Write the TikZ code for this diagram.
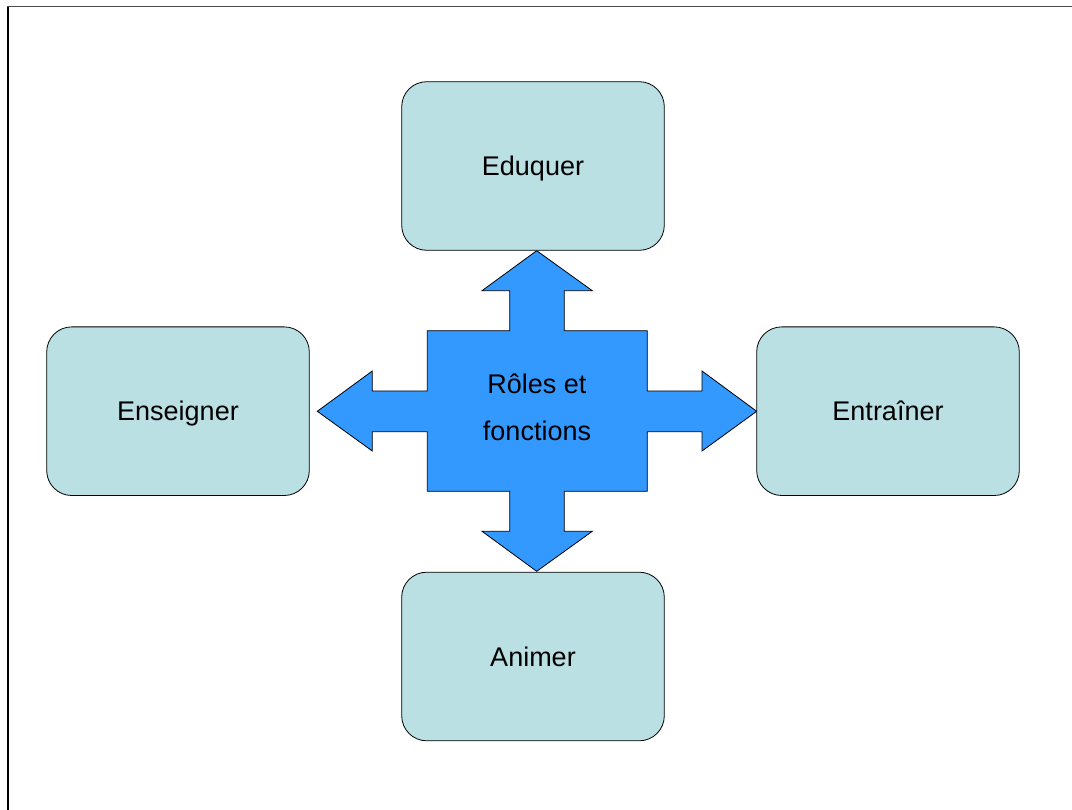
\documentclass[tikz,border=0pt]{standalone}
\usepackage{fontspec}
\setmainfont{Liberation Sans}
\definecolor{boxfill}{RGB}{186,224,228}
\definecolor{crossfill}{RGB}{51,153,255}
\begin{document}
\begin{tikzpicture}[x=1pt,y=-1pt,
  rolebox/.style={draw=black, line width=0.8pt, fill=boxfill, rounded corners=25pt,
    minimum width=262.6pt, minimum height=168.6pt, font=\fontsize{27}{32}\selectfont,
    text height=19.3pt, text depth=0pt},
  cross/.style={draw=black, line width=0.8pt, fill=crossfill, line join=miter}]
\useasboundingbox (0,0) rectangle (1072,810);
\draw[line width=1pt, draw=black!70] (7,7) -- (1072,7);
\draw[line width=2pt] (7.5,7) -- (7.5,810);
% central cross arrow
\draw[cross] (536.7,250.7) -- (592.3,290.7) -- (564.3,290.7) -- (564.3,330.7)
  -- (647.3,330.7) -- (647.3,391) -- (702,391) -- (702,371) -- (756.7,411.3)
  -- (702,451) -- (702,431.7) -- (647.3,431.7) -- (647.3,491.3) -- (564.3,491.3)
  -- (564.3,531.3) -- (592.3,531.3) -- (536.7,571.3) -- (482,531.3) -- (509.7,531.3)
  -- (509.7,491.3) -- (427.3,491.3) -- (427.3,431.7) -- (372.3,431.7) -- (372.3,451)
  -- (317.3,411.3) -- (372.3,371) -- (372.3,391) -- (427.3,391) -- (427.3,330.7)
  -- (509.7,330.7) -- (509.7,290.7) -- (482,290.7) -- cycle;
\node[align=center, font=\fontsize{27}{47.3}\selectfont] (center) at (537,407) {Rôles et\\fonctions};
\node[rolebox] (eduquer) at (533,166) {Eduquer};
\node[rolebox] (enseigner) at (178,411.2) {Enseigner};
\node[rolebox] (entrainer) at (888,411.2) {Entraîner};
\node[rolebox] (animer) at (533,656.5) {Animer};
\end{tikzpicture}
\end{document}
